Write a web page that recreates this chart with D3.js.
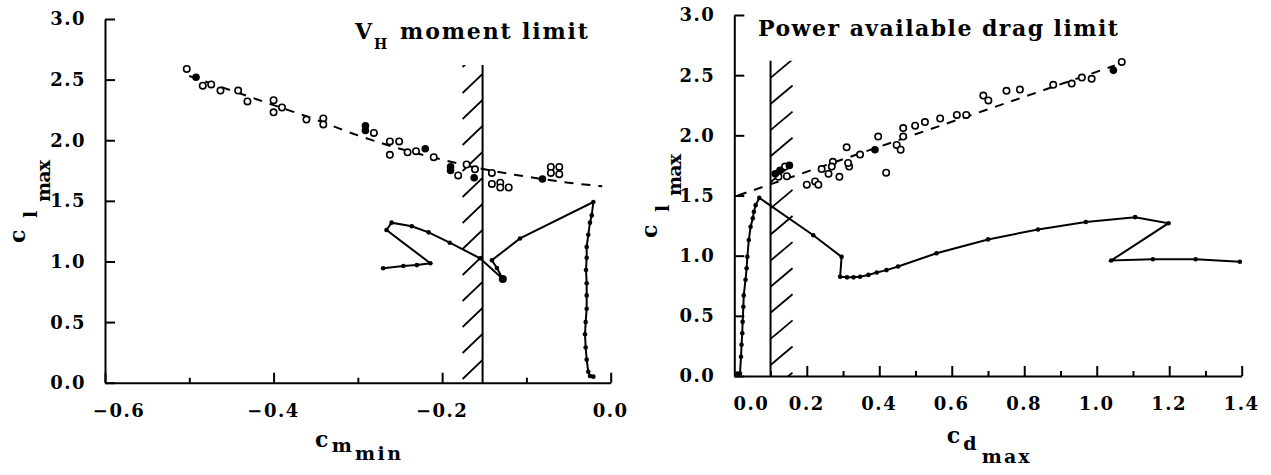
<!DOCTYPE html>
<html><head><meta charset="utf-8">
<script src="https://cdn.jsdelivr.net/npm/d3@7"></script>
<style>
body{margin:0;background:#fff;}
svg{display:block;background:#fff;}
text{font-family:'DejaVu Serif',serif;font-weight:bold;fill:#000;}
</style>
</head><body>
<svg id="chart" width="1271" height="475"></svg>
<script>
// ---------------- DATA ----------------
// Left panel: Cl_max vs Cm_min
const yTicks = [0, 0.5, 1.0, 1.5, 2.0, 2.5, 3.0];
const leftXMajor = [-0.6, -0.4, -0.2, 0.0];
const leftXMinor = [-0.5, -0.3, -0.1];
const leftOpenCm = [-0.503,-0.484,-0.474,-0.463,-0.442,-0.431,-0.400,-0.400,-0.390,-0.361,-0.341,-0.341,-0.281,-0.262,-0.251,-0.262,-0.241,-0.231,-0.210,-0.181,-0.171,-0.161,-0.141,-0.141,-0.131,-0.131,-0.121,-0.071,-0.061,-0.061,-0.071];
const leftOpenCl = [2.588,2.45,2.46,2.41,2.41,2.32,2.33,2.23,2.27,2.17,2.18,2.13,2.06,1.99,1.99,1.88,1.90,1.91,1.86,1.71,1.80,1.76,1.73,1.64,1.65,1.61,1.61,1.78,1.78,1.72,1.73];
const leftFilledCm = [-0.492,-0.291,-0.291,-0.220,-0.190,-0.190,-0.162,-0.081];
const leftFilledCl = [2.52,2.12,2.08,1.93,1.78,1.75,1.69,1.68];
const leftFitCm = [-0.50,-0.45,-0.40,-0.35,-0.30,-0.25,-0.20,-0.15,-0.10,-0.05,-0.01];
const leftFitCl = [2.53,2.41,2.29,2.17,2.04,1.93,1.84,1.76,1.70,1.65,1.62];
const leftCurveCm = [-0.270,-0.246,-0.230,-0.214,-0.266,-0.260,-0.236,-0.216,-0.191,-0.155,-0.128,-0.135,-0.141,-0.1076,-0.0206,-0.0225,-0.0246,-0.0266,-0.0285,-0.0285,-0.0293,-0.0285,-0.0285,-0.0285,-0.0297,-0.0305,-0.0297,-0.0285,-0.0266,-0.0246,-0.0206];
const leftCurveCl = [0.944,0.963,0.970,0.985,1.26,1.32,1.29,1.24,1.155,1.026,0.856,0.946,1.01,1.19,1.49,1.38,1.32,1.22,1.12,1.03,0.93,0.82,0.72,0.61,0.50,0.40,0.29,0.19,0.09,0.055,0.05];
const leftEndCm = [-0.128];
const leftEndCl = [0.856];
const leftLimitCm = -0.152;
const limitTopCl = 2.62;

// Right panel: Cl_max vs Cd_max
const rightXMajor = [0.2, 0.4, 0.6, 0.8, 1.0, 1.2, 1.4];
const rightXMinor = [0.1, 0.3, 0.5, 0.7, 0.9, 1.1, 1.3];
const rightXLabels = [0.0, 0.2, 0.4, 0.6, 0.8, 1.0, 1.2, 1.4];
const rightOpenCd = [0.122,0.145,0.140,0.200,0.223,0.232,0.241,0.260,0.272,0.269,0.290,0.310,0.317,0.314,0.347,0.397,0.419,0.448,0.459,0.466,0.466,0.499,0.526,0.568,0.614,0.640,0.687,0.701,0.751,0.788,0.880,0.931,0.959,0.986,1.069];
const rightOpenCl = [1.655,1.66,1.74,1.59,1.617,1.59,1.72,1.68,1.78,1.74,1.655,1.90,1.74,1.77,1.84,1.99,1.69,1.92,1.88,1.99,2.06,2.08,2.11,2.14,2.17,2.17,2.33,2.29,2.37,2.38,2.42,2.43,2.48,2.47,2.61];
const rightFilledCd = [0.113,0.126,0.152,0.388,1.046];
const rightFilledCl = [1.68,1.71,1.75,1.88,2.54];
const rightFitCd = [0.01, 1.05];
const rightFitCl = [1.50, 2.58];
const rightCurveCd = [0.008,0.0157,0.0185,0.020,0.022,0.023,0.025,0.026,0.031,0.034,0.036,0.040,0.045,0.051,0.054,0.059,0.069,0.218,0.296,0.292,0.311,0.329,0.347,0.370,0.393,0.420,0.452,0.558,0.700,0.838,0.970,1.106,1.198,1.040,1.155,1.273,1.395];
const rightCurveCl = [0.02,0.02,0.16,0.26,0.355,0.45,0.575,0.67,0.80,0.895,0.99,1.13,1.24,1.31,1.365,1.42,1.48,1.17,0.99,0.825,0.82,0.82,0.825,0.84,0.86,0.88,0.91,1.02,1.135,1.218,1.28,1.32,1.27,0.96,0.97,0.97,0.95];
const rightLimitCd = 0.10;

// ---------------- DRAW ----------------
const svg = d3.select('#chart');
const fmt = d3.format('.1f');
const zip = (a, b) => a.map((v, i) => [v, b[i]]);

const xL = d3.scaleLinear().domain([-0.6, 0]).range([105, 610.7]);
const yL = d3.scaleLinear().domain([0, 3]).range([382.7, 19]);
const xR = d3.scaleLinear().domain([0, 1.4]).range([734.3, 1241.7]);
const yR = d3.scaleLinear().domain([0, 3]).range([376, 15]);

const defs = svg.append('defs');

function axes(x, y, major, minor) {
  const g = svg.append('g');
  const y0 = y(0);
  const ax = g.append('g').attr('transform', `translate(0,${y0})`)
    .call(d3.axisBottom(x).tickValues(major).tickSize(-10).tickSizeOuter(0).tickFormat(''));
  const axm = g.append('g').attr('transform', `translate(0,${y0})`)
    .call(d3.axisBottom(x).tickValues(minor).tickSize(-5).tickSizeOuter(0).tickFormat(''));
  axm.select('.domain').remove();
  const ay = g.append('g').attr('transform', `translate(${x.range()[0]},0)`)
    .call(d3.axisLeft(y).tickValues(yTicks).tickSize(-10).tickSizeOuter(0).tickFormat(''));
  g.selectAll('path.domain, .tick line').attr('stroke', '#000').attr('stroke-width', 2);
  // y labels
  g.selectAll('text.yl').data(yTicks).join('text').attr('class', 'yl')
    .attr('x', x.range()[0] - 19).attr('y', d => y(d)).attr('dy', '0.36em')
    .attr('text-anchor', 'end').attr('font-size', 18).attr('letter-spacing', 1.5)
    .text(d => fmt(d));
  return g;
}

function xLabels(g, x, y, vals, firstShift) {
  g.selectAll('text.xl').data(vals).join('text').attr('class', 'xl')
    .attr('x', (d, i) => x(d) + (i === 0 ? firstShift : 0)).attr('y', y(0) + 34)
    .attr('text-anchor', 'middle').attr('font-size', 18).attr('letter-spacing', 1.5)
    .text(d => fmt(d));
}

// ----- Left panel -----
const gL = axes(xL, yL, leftXMajor, leftXMinor);
xLabels(gL, xL, yL, leftXMajor, 14);

// hatch left
{
  const xl = xL(leftLimitCm), top = yL(limitTopCl), bot = yL(0);
  defs.append('clipPath').attr('id', 'clipL').append('rect')
    .attr('x', xl - 21).attr('y', top).attr('width', 21).attr('height', bot - top);
  const ys = d3.range(0, 13).map(k => bot - 22.7 - 26 * k);
  svg.append('g').attr('clip-path', 'url(#clipL)').selectAll('line').data(ys).join('line')
    .attr('x1', xl - 20).attr('y1', d => d + 19).attr('x2', xl).attr('y2', d => d)
    .attr('stroke', '#000').attr('stroke-width', 1.8);
  svg.append('line').attr('x1', xl).attr('x2', xl).attr('y1', top).attr('y2', bot)
    .attr('stroke', '#000').attr('stroke-width', 2);
}

// dashed fit left
svg.append('path').datum(zip(leftFitCm, leftFitCl))
  .attr('d', d3.line().x(d => xL(d[0])).y(d => yL(d[1])).curve(d3.curveMonotoneX))
  .attr('fill', 'none').attr('stroke', '#000').attr('stroke-width', 2).attr('stroke-dasharray', '9,8');

// solid curve left
svg.append('path').datum(zip(leftCurveCm, leftCurveCl))
  .attr('d', d3.line().x(d => xL(d[0])).y(d => yL(d[1])))
  .attr('fill', 'none').attr('stroke', '#000').attr('stroke-width', 2);
svg.append('g').selectAll('circle').data(zip(leftCurveCm, leftCurveCl)).join('circle')
  .attr('cx', d => xL(d[0])).attr('cy', d => yL(d[1])).attr('r', 2.3).attr('fill', '#000');
svg.append('g').selectAll('circle').data(zip(leftEndCm, leftEndCl)).join('circle')
  .attr('cx', d => xL(d[0])).attr('cy', d => yL(d[1])).attr('r', 4).attr('fill', '#000');

// points left
svg.append('g').selectAll('circle').data(zip(leftOpenCm, leftOpenCl)).join('circle')
  .attr('cx', d => xL(d[0])).attr('cy', d => yL(d[1])).attr('r', 3.2)
  .attr('fill', '#fff').attr('stroke', '#000').attr('stroke-width', 1.6);
svg.append('g').selectAll('circle').data(zip(leftFilledCm, leftFilledCl)).join('circle')
  .attr('cx', d => xL(d[0])).attr('cy', d => yL(d[1])).attr('r', 3.8).attr('fill', '#000');

// titles left
{
  const t = svg.append('text').attr('x', 355).attr('y', 39.3);
  t.append('tspan').attr('font-size', 22).text('V');
  t.append('tspan').attr('x', 374).attr('y', 49.3).attr('font-size', 14).text('H');
  t.append('tspan').attr('x', 400).attr('y', 39.3).attr('font-size', 22)
    .attr('textLength', 188).attr('lengthAdjust', 'spacing').text('moment limit');

  const xt = svg.append('text');
  xt.append('tspan').attr('x', 315).attr('y', 446.7).attr('font-size', 22).text('c');
  xt.append('tspan').attr('x', 331.7).attr('y', 451.7).attr('font-size', 19).text('m');
  xt.append('tspan').attr('x', 355).attr('y', 460).attr('font-size', 19)
    .attr('textLength', 46).attr('lengthAdjust', 'spacing').text('min');

  const yt = svg.append('text').attr('transform', 'rotate(-90)');
  yt.append('tspan').attr('x', -243).attr('y', 25).attr('font-size', 22).text('c');
  yt.append('tspan').attr('x', -218).attr('y', 37).attr('font-size', 19).text('l');
  yt.append('tspan').attr('x', -202).attr('y', 50).attr('font-size', 19)
    .attr('textLength', 42).attr('lengthAdjust', 'spacing').text('max');
}

// ----- Right panel -----
const gR = axes(xR, yR, rightXMajor, rightXMinor);
xLabels(gR, xR, yR, rightXLabels, 17);

// hatch right
{
  const xl = xR(rightLimitCd), top = yR(limitTopCl), bot = yR(0);
  defs.append('clipPath').attr('id', 'clipR').append('rect')
    .attr('x', xl).attr('y', top).attr('width', 23).attr('height', bot - top);
  const ys = d3.range(-1, 13).map(k => bot - 11 - 26.1 * k);
  svg.append('g').attr('clip-path', 'url(#clipR)').selectAll('line').data(ys).join('line')
    .attr('x1', xl).attr('y1', d => d).attr('x2', xl + 22).attr('y2', d => d - 18.5)
    .attr('stroke', '#000').attr('stroke-width', 1.8);
  svg.append('line').attr('x1', xl).attr('x2', xl).attr('y1', top).attr('y2', bot)
    .attr('stroke', '#000').attr('stroke-width', 2);
}

// dashed fit right
svg.append('path').datum(zip(rightFitCd, rightFitCl))
  .attr('d', d3.line().x(d => xR(d[0])).y(d => yR(d[1])))
  .attr('fill', 'none').attr('stroke', '#000').attr('stroke-width', 2).attr('stroke-dasharray', '9,8');

// solid curve right
svg.append('path').datum(zip(rightCurveCd, rightCurveCl))
  .attr('d', d3.line().x(d => xR(d[0])).y(d => yR(d[1])))
  .attr('fill', 'none').attr('stroke', '#000').attr('stroke-width', 2);
svg.append('g').selectAll('circle').data(zip(rightCurveCd, rightCurveCl)).join('circle')
  .attr('cx', d => xR(d[0])).attr('cy', d => yR(d[1])).attr('r', 2.3).attr('fill', '#000');

// points right
svg.append('g').selectAll('circle').data(zip(rightOpenCd, rightOpenCl)).join('circle')
  .attr('cx', d => xR(d[0])).attr('cy', d => yR(d[1])).attr('r', 3.2)
  .attr('fill', '#fff').attr('stroke', '#000').attr('stroke-width', 1.6);
svg.append('g').selectAll('circle').data(zip(rightFilledCd, rightFilledCl)).join('circle')
  .attr('cx', d => xR(d[0])).attr('cy', d => yR(d[1])).attr('r', 3.8).attr('fill', '#000');

// titles right
{
  svg.append('text').attr('x', 758).attr('y', 36).attr('font-size', 22)
    .attr('textLength', 360).attr('lengthAdjust', 'spacing').text('Power available drag limit');

  const xt = svg.append('text');
  xt.append('tspan').attr('x', 946.7).attr('y', 443.3).attr('font-size', 22).text('c');
  xt.append('tspan').attr('x', 963.3).attr('y', 450).attr('font-size', 19).text('d');
  xt.append('tspan').attr('x', 981.7).attr('y', 463.3).attr('font-size', 19)
    .attr('textLength', 48).attr('lengthAdjust', 'spacing').text('max');

  const yt = svg.append('text').attr('transform', 'rotate(-90)');
  yt.append('tspan').attr('x', -238).attr('y', 657).attr('font-size', 22).text('c');
  yt.append('tspan').attr('x', -212).attr('y', 669).attr('font-size', 19).text('l');
  yt.append('tspan').attr('x', -196).attr('y', 681).attr('font-size', 19)
    .attr('textLength', 42).attr('lengthAdjust', 'spacing').text('max');
}
</script>
</body></html>
